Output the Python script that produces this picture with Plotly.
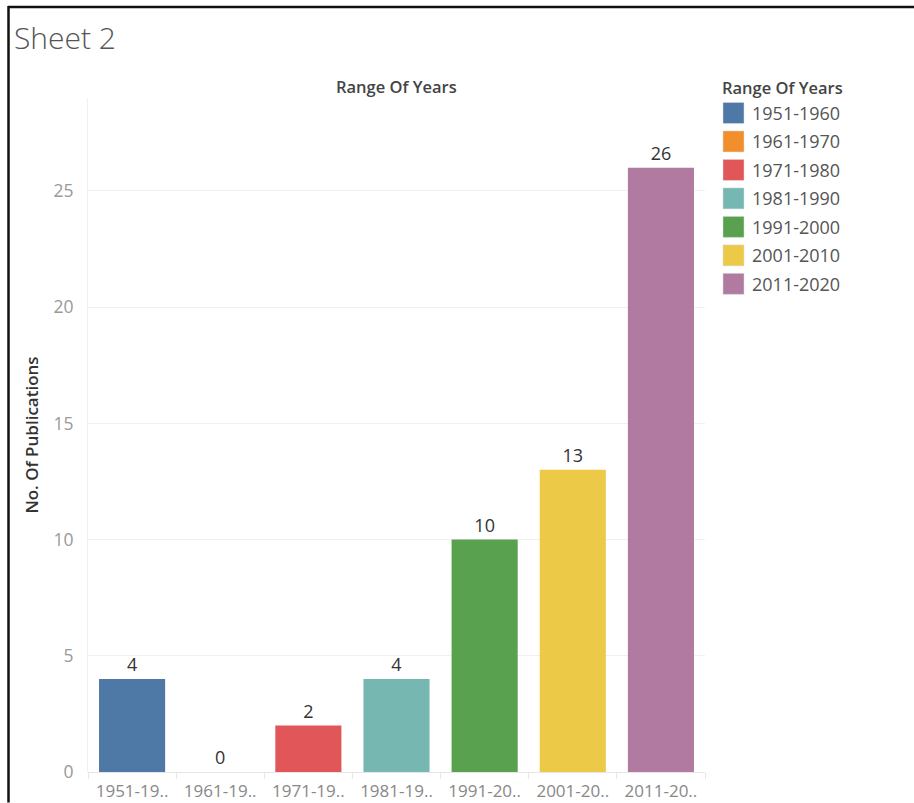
import plotly.graph_objects as go

categories = ["1951-1960", "1961-1970", "1971-1980", "1981-1990", "1991-2000", "2001-2010", "2011-2020"]
tick_labels = ["1951-19..", "1961-19..", "1971-19..", "1981-19..", "1991-20..", "2001-20..", "2011-20.."]
publications = [4, 0, 2, 4, 10, 13, 26]
colors = ["#4e79a7", "#f28e2b", "#e15759", "#76b7b2", "#59a14f", "#edc948", "#b07aa1"]
y_ticks = [0, 5, 10, 15, 20, 25]

W, H = 914, 803
L, R = 88, 705
T, B = 98, 772.5
FONT = "Open Sans"


def px_x(px):
    return (px - L) / (R - L)


def px_y(py):
    return (B - py) / (B - T)


fig = go.Figure()
fig.add_trace(go.Bar(
    x=categories,
    y=publications,
    marker=dict(color=colors, line=dict(width=0)),
    width=0.75,
    text=[str(v) for v in publications],
    textposition="outside",
    textfont=dict(family=FONT, size=18, color="#333333"),
    cliponaxis=False,
    showlegend=False,
    hovertemplate="%{x}: %{y}<extra></extra>",
))

annotations = [
    dict(text="Sheet 2", x=px_x(12), y=px_y(37), xref="paper", yref="paper",
         xanchor="left", yanchor="middle", showarrow=False,
         font=dict(family=FONT, size=30, color="#555555", weight=300)),
    dict(text="Range Of Years", x=0.5, y=px_y(86), xref="paper", yref="paper",
         xanchor="center", yanchor="middle", showarrow=False,
         font=dict(family=FONT, size=16.5, color="#444444", weight=600)),
    dict(text="Range Of Years", x=px_x(720), y=px_y(87), xref="paper", yref="paper",
         xanchor="left", yanchor="middle", showarrow=False,
         font=dict(family=FONT, size=16.5, color="#444444", weight=600)),
]
shapes = [
    dict(type="line", xref="paper", yref="paper", x0=px_x(8), x1=px_x(914),
         y0=px_y(7), y1=px_y(7), line=dict(color="#111111", width=2.5)),
    dict(type="line", xref="paper", yref="paper", x0=px_x(8.5), x1=px_x(8.5),
         y0=px_y(6), y1=px_y(803), line=dict(color="#111111", width=2.5)),
]

# legend (drawn from the category / colour lists)
for i, (cat, col) in enumerate(zip(categories, colors)):
    cy = 113 + i * 28.5
    shapes.append(dict(type="rect", xref="paper", yref="paper",
                       x0=px_x(723), x1=px_x(744), y0=px_y(cy - 10.5), y1=px_y(cy + 10.5),
                       fillcolor=col, line=dict(width=0.5, color="#dddddd")))
    annotations.append(dict(text=cat, x=px_x(750), y=px_y(cy), xref="paper", yref="paper",
                            xanchor="left", yanchor="middle", showarrow=False,
                            font=dict(family=FONT, size=18, color="#555555")))

fig.update_layout(
    width=W, height=H,
    margin=dict(l=L, r=W - R, t=T, b=H - B, pad=0, autoexpand=False),
    paper_bgcolor="white", plot_bgcolor="white",
    bargap=0.25,
    shapes=shapes,
    annotations=annotations,
    font=dict(family=FONT),
    xaxis=dict(
        automargin=False,
        tickmode="array", tickvals=categories, ticktext=tick_labels,
        tickfont=dict(family=FONT, size=17, color="#888888"),
        ticks="outside", tickson="boundaries", ticklen=6, tickcolor="#e6e6e6",
        ticklabelstandoff=7,
        showline=False, showgrid=False, zeroline=False,
        fixedrange=True,
    ),
    yaxis=dict(
        automargin=False,
        range=[0, 29],
        tickmode="array", tickvals=y_ticks,
        tickfont=dict(family=FONT, size=17.5, color="#999999"),
        showgrid=True, gridcolor="#f0f0f0", gridwidth=1,
        zeroline=True, zerolinecolor="#e6e6e6", zerolinewidth=1,
        showline=True, linecolor="#f0f0f0", linewidth=1,
        ticks="", ticklabelstandoff=10,
        title=dict(text="No. Of Publications", standoff=10,
                   font=dict(family=FONT, size=17, color="#333333", weight=600)),
        fixedrange=True,
    ),
)

fig.write_html("out.html")
